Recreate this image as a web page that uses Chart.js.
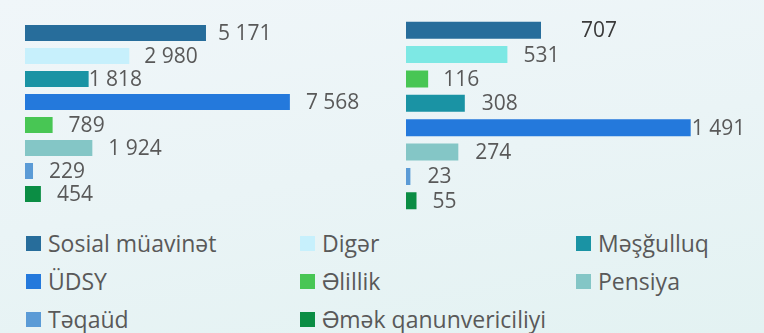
<!DOCTYPE html>
<html>
<head>
<meta charset="utf-8">
<script src="https://cdn.jsdelivr.net/npm/chart.js@4"></script>
<style>
  html, body { margin:0; padding:0; }
  body {
    width:764px; height:333px; overflow:hidden; position:relative;
    background: linear-gradient(170deg, #f0f6f9 0%, #eaf4f6 50%, #e3f2f2 100%);
    font-family: "Open Sans", sans-serif; color:#595959;
  }
  .chart-box { position:absolute; top:0; height:222px; }
  #left-box { left:0; width:380px; }
  #right-box { left:380px; width:384px; }
  #legend { position:absolute; left:0; top:224px; width:764px; height:109px; }
  .leg-item { position:absolute; display:flex; align-items:center; font-size:23px; line-height:38px; white-space:nowrap; }
  .leg-item span.sw { width:15px; height:15px; margin-right:7px; flex:none; }
</style>
</head>
<body>
<div id="left-box" class="chart-box"><canvas id="leftChart"></canvas></div>
<div id="right-box" class="chart-box"><canvas id="rightChart"></canvas></div>
<div id="legend"></div>

<script>
// legend entries, in reading order
const legendNames = ['Sosial müavinət', 'Digər', 'Məşğulluq', 'ÜDSY', 'Əlillik', 'Pensiya', 'Təqaüd', 'Əmək qanunvericiliyi'];
const legendColors = ['#276d9b', '#c7f0fc', '#1a93a4', '#2479dc', '#48c654', '#84c6c6', '#5b9bd6', '#0b8d44'];

// left panel
const leftCategories = ['Sosial müavinət', 'Digər', 'Məşğulluq', 'ÜDSY', 'Əlillik', 'Pensiya', 'Təqaüd', 'Əmək qanunvericiliyi'];
const leftValues = [5171, 2980, 1818, 7568, 789, 1924, 229, 454];
const leftColors = ['#276d9b', '#c7f0fc', '#1a93a4', '#2479dc', '#48c654', '#84c6c6', '#5b9bd6', '#0b8d44'];
const leftLabelGap = [12, 15, 0, 16, 16, 16, 16, 16];

// right panel
const rightCategories = ['Sosial müavinət', 'Digər', 'Əlillik', 'Məşğulluq', 'ÜDSY', 'Pensiya', 'Təqaüd', 'Əmək qanunvericiliyi'];
const rightValues = [707, 531, 116, 308, 1491, 274, 23, 55];
const rightColors = ['#276d9b', '#7de8e4', '#48c654', '#1a93a4', '#2479dc', '#84c6c6', '#5b9bd6', '#0b8d44'];
const rightLabelGap = [40, 16, 15, 17, 1, 17, 17, 16];
const rightLabelColors = ['#3a3a3a', '#595959', '#595959', '#595959', '#595959', '#595959', '#595959', '#595959'];

// value labels: "5 171" style, space as thousands separator
function fmt(v){
  return String(v).replace(/\B(?=(\d{3})+(?!\d))/g, ' ');
}

const valueLabels = {
  id: 'valueLabels',
  afterDatasetsDraw(chart, args, opts){
    const ctx = chart.ctx;
    const meta = chart.getDatasetMeta(0);
    const vals = chart.data.datasets[0].data;
    ctx.save();
    ctx.font = '21px "Open Sans", sans-serif';
    ctx.textAlign = 'left';
    ctx.textBaseline = 'middle';
    meta.data.forEach((bar, i) => {
      ctx.fillStyle = opts.colors ? opts.colors[i] : '#595959';
      ctx.fillText(fmt(vals[i]), bar.x + opts.gaps[i], bar.y + 1);
    });
    ctx.restore();
  }
};

function makeChart(id, cats, vals, colors, max, padding, gaps, labelColors){
  return new Chart(document.getElementById(id), {
    type: 'bar',
    data: {
      labels: cats,
      datasets: [{ data: vals, backgroundColor: colors, barPercentage: 0.7, categoryPercentage: 1 }]
    },
    options: {
      indexAxis: 'y',
      responsive: true,
      maintainAspectRatio: false,
      animation: false,
      layout: { padding: padding },
      scales: {
        x: { display: false, min: 0, max: max },
        y: { display: false }
      },
      plugins: {
        legend: { display: false },
        tooltip: { enabled: false },
        valueLabels: { gaps: gaps, colors: labelColors }
      }
    },
    plugins: [valueLabels]
  });
}

function buildLegend(){
  const box = document.getElementById('legend');
  const colX = [26, 300, 576];
  const rowY = [0, 38, 76];
  legendNames.forEach((name, i) => {
    const el = document.createElement('div');
    el.className = 'leg-item';
    el.style.left = colX[i % 3] + 'px';
    el.style.top = rowY[Math.floor(i / 3)] + 'px';
    el.innerHTML = `<span class="sw" style="background:${legendColors[i]}"></span>${name}`;
    box.appendChild(el);
  });
}

document.addEventListener('DOMContentLoaded', () => {
  makeChart('leftChart', leftCategories, leftValues, leftColors, 10000,
    { left: 25, right: 5, top: 21.5, bottom: 16.5 }, leftLabelGap, null);
  makeChart('rightChart', rightCategories, rightValues, rightColors, 1800,
    { left: 26, right: 14.3, top: 18, bottom: 9 }, rightLabelGap, rightLabelColors);
  buildLegend();
});
</script>
</body>
</html>
